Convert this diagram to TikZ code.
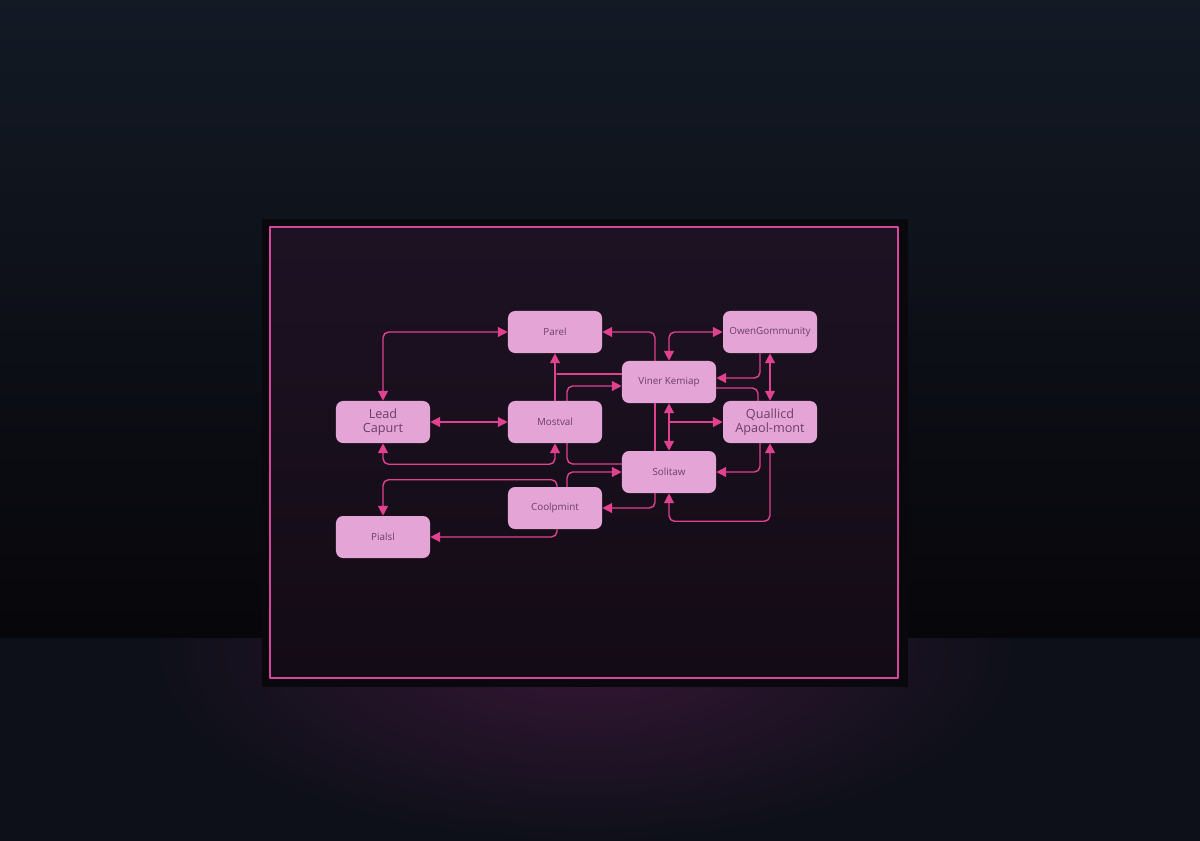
\documentclass[tikz,border=0pt]{standalone}
\usepackage{fontspec}
\setmainfont{Open Sans}
\usetikzlibrary{arrows.meta}

\definecolor{wallTop}{HTML}{131A25}
\definecolor{wallBot}{HTML}{07060A}
\definecolor{floorCol}{HTML}{0E1019}
\definecolor{floorGlow}{HTML}{361635}
\definecolor{frameDark}{HTML}{09080C}
\definecolor{panelTop}{HTML}{1D1223}
\definecolor{panelBot}{HTML}{130B15}
\definecolor{frameLine}{HTML}{D6479C}
\definecolor{nodePink}{HTML}{E5A4D6}
\definecolor{nodeText}{HTML}{6B3F66}
\definecolor{linkPink}{HTML}{E0428F}

\tikzset{
  stage/.style={fill=nodePink, rounded corners=5pt, minimum width=2.35cm,
    minimum height=1.05cm, text=nodeText, align=center,
    font=\fontsize{7}{8}\selectfont},
  bigstage/.style={stage, font=\fontsize{9}{10}\selectfont},
  link/.style={draw=linkPink, line width=1.pt, rounded corners=4pt}
}

\begin{document}
\begin{tikzpicture}[line cap=round,line join=round,x=0.025cm,y=-0.025cm,
  >={Triangle[length=7pt,width=7pt]}]
\useasboundingbox (0,0) rectangle (1200,840);

% room
\shade [top color=wallTop, bottom color=wallBot] (-10,-10) rectangle (1210,638);
\fill [floorCol] (-10,638) rectangle (1210,850);
\begin{scope}
\clip (-10,638) rectangle (1210,850);
\shade [inner color=floorGlow, outer color=floorCol] (585,650) ellipse (430 and 190);
\end{scope}

% frame
\fill [frameDark] (262,219) rectangle (908,687);
\shade [top color=panelTop, bottom color=panelBot] (270,227) rectangle (898,678);
\draw [frameLine, line width=1.2pt] (270,227) rectangle (898,678);

% stages
\node [bigstage] (lead) at (383,422) {Lead\\Capurt};
\node [stage] (parel) at (555,332) {Parel};
\node [stage] (mostval) at (555,422) {Mostval};
\node [stage] (coolp) at (555,508) {Coolpmint};
\node [stage] (pialsl) at (383,537) {Pialsl};
\node [stage] (viner) at (669,382) {Viner Kemiap};
\node [stage] (solit) at (669,472) {Solitaw};
\node [stage] (owen) at (770,332) {OwenGommunity};
\node [bigstage] (qual) at (770,422) {Quallicd\\Apaol-mont};

\coordinate (tap1) at (557,374);
\coordinate (tap2) at (669,422);

% left links
\draw [link, <->] (lead.north) |- (parel.west);
\draw [link, <->] (lead.east) -- (mostval.west);
\draw [link, <->] (lead.south) -- ++(0,21) -| (mostval.south);
\draw [link, ->] (mostval.north) -- (parel.south);
\draw [link, ->] ([shift={(2,0)}]coolp.north) -- ++(0,-7) -| (pialsl.north);
\draw [link, ->] ([shift={(2,0)}]coolp.south) |- (pialsl.east);

% middle links
\draw [link] (tap1) -- (tap1 -| viner.west);
\draw [link, ->] ([shift={(12,0)}]mostval.north) |- ([shift={(0,4)}]viner.west);
\draw [link] ([shift={(12,0)}]mostval.south) |- ([shift={(0,-8)}]solit.west);
\draw [link, ->] ([shift={(12,0)}]coolp.north) |- (solit.west);
\draw [link, ->] ([shift={(-14,0)}]viner.north) |- (parel.east);
\draw [link] ([shift={(-14,0)}]viner.south) -- ([shift={(-14,0)}]solit.north);
\draw [link, ->] ([shift={(-14,0)}]solit.south) |- (coolp.east);
\draw [link, <->] (viner.north) |- (owen.west);
\draw [link, <->] (viner.south) -- (solit.north);
\draw [link, ->] (tap2) -- (tap2 -| qual.west);

% right links
\draw [link, ->] ([shift={(-10,0)}]owen.south) |- ([shift={(0,-4)}]viner.east);
\draw [link] ([shift={(-12,0)}]qual.north) |- ([shift={(0,6)}]viner.east);
\draw [link, <->] (owen.south) -- (qual.north);
\draw [link, ->] ([shift={(-10,0)}]qual.south) |- (solit.east);
\draw [link, <->] (solit.south) -- ++(0,28) -| (qual.south);
\end{tikzpicture}
\end{document}
